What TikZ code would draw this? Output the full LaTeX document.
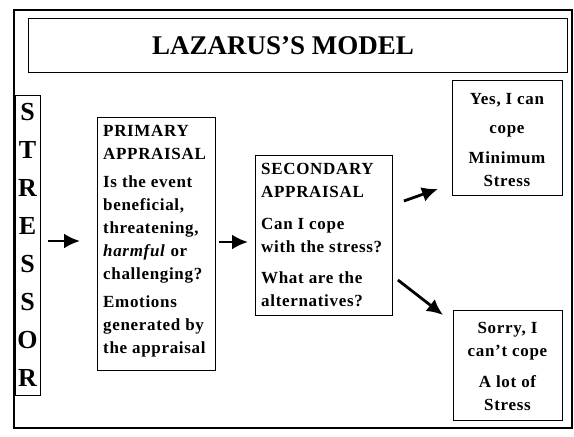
\documentclass[tikz,border=0pt]{standalone}
\usepackage{fontspec}
\setmainfont{Liberation Serif}
\newfontfamily\bodyfont[LetterSpace=4]{Liberation Serif}
\usetikzlibrary{arrows.meta,calc}
\begin{document}
\begin{tikzpicture}[x=1pt,y=-1pt,
  frame/.style={draw,line width=1.1pt},
  box/.style={draw,line width=0.9pt,inner sep=0pt,anchor=north west},
  body/.style={font=\bodyfont\bfseries\fontsize{17}{23}\selectfont},
  flow/.style={line width=2.8pt,-{Latex[length=16pt,width=15pt]}}]
\useasboundingbox (0,0) rectangle (574,437);
% outer frame and title banner
\draw[frame] (14,10) rectangle (572,428);
\node[box,minimum width=539pt,minimum height=54pt] (title) at (28,18) {};
\node[font=\bfseries\fontsize{27}{30}\selectfont] at ($(title.center)+(-15,0)$) {LAZARUS’S MODEL};
% vertical stressor column
\node[box,minimum width=25pt,minimum height=300pt] (stress) at (15,95) {};
\foreach \l [count=\i] in {S,T,R,E,S,S,O,R}
  \node[font=\bfseries\fontsize{26}{26}\selectfont,inner sep=0pt]
    at (27.5,74+38*\i) {\l};
% appraisal boxes
\node[box,minimum width=118pt,minimum height=253pt] (prim) at (97,117) {};
\node[body,anchor=north west,align=left,inner sep=0pt] at (103,125)
  {PRIMARY\\APPRAISAL\\[5pt]Is the event\\beneficial,\\threatening,\\\textit{harmful} or\\challenging?\\[5pt]Emotions\\generated by\\the appraisal};
\node[box,minimum width=137pt,minimum height=160pt] (sec) at (255,155) {};
\node[body,anchor=north west,align=left,inner sep=0pt] at (261,163)
  {SECONDARY\\APPRAISAL\\[9pt]Can I cope\\with the stress?\\[8pt]What are the\\alternatives?};
% outcome boxes
\node[box,minimum width=110pt,minimum height=115pt] (yes) at (452,80) {};
\node[body,anchor=north,align=center,inner sep=0pt] at (507,93)
  {Yes, I can\\[6pt]cope\\[7pt]Minimum\\Stress};
\node[box,minimum width=109pt,minimum height=110pt] (sorry) at (453,310) {};
\node[body,anchor=north,align=center,inner sep=0pt] at (507.5,322)
  {Sorry, I\\can’t cope\\[8pt]A lot of\\Stress};
% connectors
\draw[flow] (stress.east |- 0,241) ++(7,0) -- ($(prim.west |- 0,241)+(-17,0)$);
\draw[flow] (prim.east |- 0,242) ++(3,0) -- ($(sec.west |- 0,242)+(-7,0)$);
\draw[flow] ($(sec.north east)+(11,46)$) -- ($(yes.south west)+(-14,-7)$);
\draw[flow] ($(sec.north east)+(5,125)$) -- ($(sorry.north west)+(-10,5)$);
\end{tikzpicture}
\end{document}
